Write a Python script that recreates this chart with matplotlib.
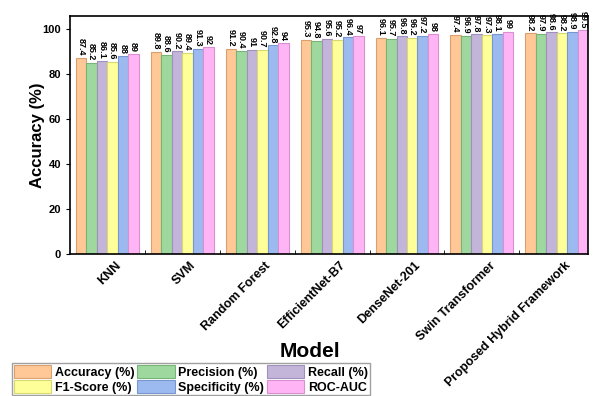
import matplotlib.pyplot as plt
import numpy as np

models = ["KNN", "SVM", "Random Forest", "EfficientNet-B7", "DenseNet-201",
          "Swin Transformer", "Proposed Hybrid Framework"]
metrics = ["Accuracy (%)", "Precision (%)", "Recall (%)",
           "F1-Score (%)", "Specificity (%)", "ROC-AUC"]

accuracy = [87.4, 89.8, 91.2, 95.3, 96.1, 97.4, 98.2]
precision = [85.2, 88.6, 90.4, 94.8, 95.7, 96.9, 97.9]
recall = [86.1, 90.2, 91, 95.6, 96.8, 97.8, 98.6]
f1_score = [85.6, 89.4, 90.7, 95.2, 96.2, 97.3, 98.2]
specificity = [88, 91.3, 92.8, 96.4, 97.2, 98.1, 98.9]
roc_auc = [89, 92, 94, 97, 98, 99, 99.5]

series = [accuracy, precision, recall, f1_score, specificity, roc_auc]
colors = ["#FFC896", "#9ED89E", "#C3B4DA", "#FFFF99", "#9CBAF0", "#FFB4F6"]
edges = ["#D9A070", "#78B478", "#A090BC", "#D8D870", "#7896D0", "#D890D0"]

plt.rcParams["font.family"] = ["Liberation Sans", "DejaVu Sans"]
plt.rcParams["font.weight"] = "bold"

fig = plt.figure(figsize=(5.93, 3.96), dpi=100)
ax = fig.add_axes([0.118, 0.359, 0.874, 0.601])

x = np.arange(len(models))
w = 0.84 / len(series)
bar_groups = []
for i, (vals, c, ec) in enumerate(zip(series, colors, edges)):
    pos = x - 0.42 + w / 2 + i * w
    bars = ax.bar(pos, vals, w, color=c, edgecolor=ec, linewidth=0.8,
                  label=metrics[i])
    bar_groups.append(bars)
    for p, v in zip(pos, vals):
        ax.text(p, v + 1.0, f"{v:g}", rotation=270, ha="center", va="bottom",
                fontsize=6.5, fontweight="bold")

ax.set_xlim(-0.5, 6.42)
ax.set_ylim(0, 106)
ax.set_yticks(range(0, 101, 20))
ax.set_xticks(x + 0.1)
ax.set_xticklabels(models, rotation=45, ha="right", rotation_mode="anchor",
                   fontsize=9, fontweight="bold")
ax.set_xticks(x[:-1] + 0.5, minor=True)
ax.tick_params(axis="x", which="major", length=0, pad=4)
ax.tick_params(axis="x", which="minor", direction="in", length=3)
ax.tick_params(axis="y", labelsize=8, length=3)
for lab in ax.get_yticklabels():
    lab.set_fontweight("bold")
for s in ax.spines.values():
    s.set_linewidth(1.2)

ax.set_ylabel("Accuracy (%)", fontsize=12, fontweight="bold", labelpad=-2)
fig.text(0.523, 0.113, "Model", fontsize=15, fontweight="bold",
         ha="center", va="center")

order = [0, 3, 1, 4, 2, 5]
handles = [bar_groups[i] for i in order]
labels = [metrics[i] for i in order]
fig.legend(handles, labels, ncol=3, loc="upper left",
           bbox_to_anchor=(0.02, 0.083), fontsize=9, frameon=True,
           fancybox=False, edgecolor="#888888", handlelength=3.0,
           handleheight=1.2, columnspacing=0.2, handletextpad=0.3,
           labelspacing=0.1, borderpad=0.15, borderaxespad=0)

fig.savefig("out.png", dpi=100)
